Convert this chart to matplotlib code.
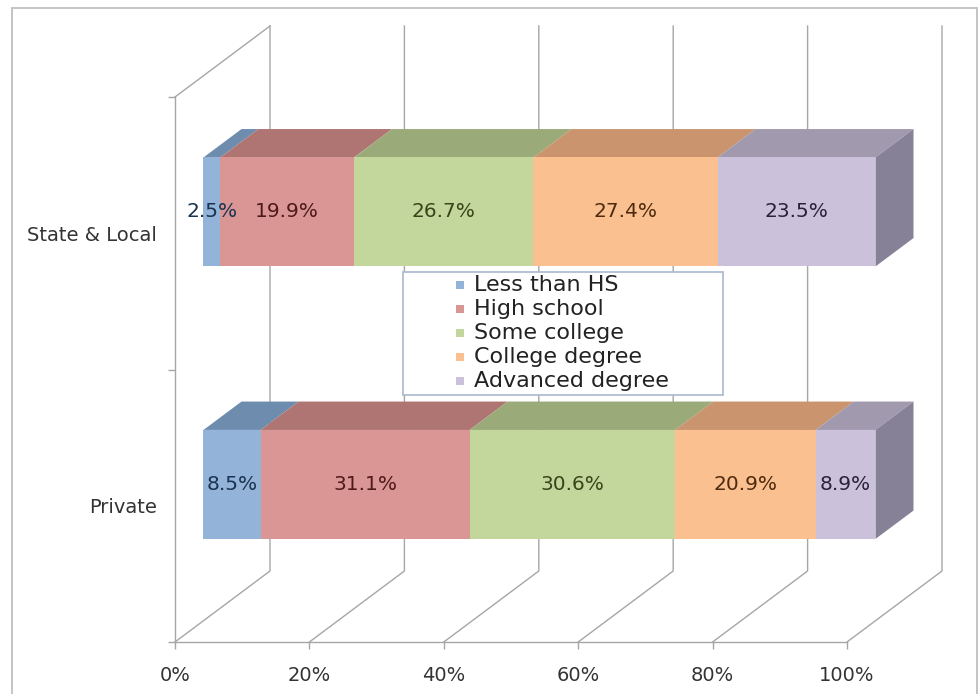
import matplotlib
matplotlib.use("Agg")
import matplotlib.pyplot as plt
from matplotlib.patches import Polygon, Rectangle

# Educational attainment by sector (share of workers, %)
categories = ["Private", "State & Local"]
series = ["Less than HS", "High school", "Some college", "College degree", "Advanced degree"]
private = [8.5, 31.1, 30.6, 20.9, 8.9]
state_local = [2.5, 19.9, 26.7, 27.4, 23.5]
x_ticks = [0, 20, 40, 60, 80, 100]
x_tick_labels = ["0%", "20%", "40%", "60%", "80%", "100%"]

front_colors = ["#93B3D8", "#DA9694", "#C3D69B", "#FAC090", "#CCC1DA"]
top_colors = ["#6E8DAE", "#AE7573", "#9AAA78", "#C9946E", "#A199AD"]
side_color = "#878197"
label_colors = ["#1A3350", "#4E1918", "#37461A", "#4E2B0E", "#28223C"]
grid_color = "#A6A6A6"
text_color = "#333333"

W, H = 979, 694
fig = plt.figure(figsize=(W / 100, H / 100), dpi=100)
fig.patch.set_facecolor("white")


def fx(x):
    return x / W


def fy(y):
    return 1 - y / H


# outer chart frame (its lower edge runs past the bottom of the image)
fig.add_artist(Rectangle((fx(12), fy(700)), fx(977) - fx(12), fy(8) - fy(700),
                         transform=fig.transFigure, fill=False, ec="#BFBFBF", lw=1.3))

# front plane of the 3-D plot area
ax = fig.add_axes([fx(175), fy(642), fx(847) - fx(175), fy(97) - fy(642)])
ax.set_xlim(0, 100)
ax.set_ylim(-0.5, 1.5)
ax.patch.set_alpha(0)

p0 = ax.transData.transform((0, 0))
p1 = ax.transData.transform((1, 1))
sx, sy = p1 - p0
DEPTH_X = 95 / sx   # wall depth, data units along x
DEPTH_Y = 71 / sy   # wall depth, data units along y


def at(x, y, d):
    """Point (x, y) pushed d (0 front .. 1 back) into the depth of the plot."""
    return (x + d * DEPTH_X, y + d * DEPTH_Y)


grid_kw = dict(color=grid_color, lw=1.0, clip_on=False, zorder=1)
# floor diagonals and back-wall gridlines
for t in x_ticks:
    a, b, c = at(t, -0.5, 0), at(t, -0.5, 1), at(t, 1.5, 1)
    ax.plot([a[0], b[0], c[0]], [a[1], b[1], c[1]], **grid_kw)
# top edge of the side wall
a, b = at(0, 1.5, 0), at(0, 1.5, 1)
ax.plot([a[0], b[0]], [a[1], b[1]], **grid_kw)

for s in ["top", "right"]:
    ax.spines[s].set_visible(False)
for s in ["left", "bottom"]:
    ax.spines[s].set_color(grid_color)
    ax.spines[s].set_linewidth(1.0)

ax.set_xticks(x_ticks)
ax.set_xticklabels(x_tick_labels, fontsize=14, color=text_color)
ax.tick_params(axis="x", length=5, width=1, color=grid_color, pad=12)
ax.set_yticks([0, 1])
ax.set_yticklabels(categories, fontsize=14, color=text_color)
ax.tick_params(axis="y", length=0, pad=13)
ax.set_yticks([-0.5, 0.5, 1.5], minor=True)
ax.tick_params(axis="y", which="minor", length=5, width=1, color=grid_color)

# stacked 3-D bars
bar_h = 0.4
d0, d1 = 0.3, 0.7
for cat_idx, values in enumerate([private, state_local]):
    y0, y1 = cat_idx - bar_h / 2, cat_idx + bar_h / 2
    left = 0.0
    for i, v in enumerate(values):
        right = left + v
        ax.add_patch(Polygon([at(left, y1, d0), at(right, y1, d0), at(right, y1, d1), at(left, y1, d1)],
                             closed=True, fc=top_colors[i], ec="none", clip_on=False, zorder=3))
        ax.add_patch(Polygon([at(left, y0, d0), at(right, y0, d0), at(right, y1, d0), at(left, y1, d0)],
                             closed=True, fc=front_colors[i], ec="none", clip_on=False, zorder=3))
        tx, ty = at((left + right) / 2, cat_idx, d0)
        ax.text(tx, ty, f"{v:.1f}%", ha="center", va="center", fontsize=14.5,
                color=label_colors[i], zorder=6, clip_on=False)
        left = right
    ax.add_patch(Polygon([at(left, y0, d0), at(left, y0, d1), at(left, y1, d1), at(left, y1, d0)],
                         closed=True, fc=side_color, ec="none", clip_on=False, zorder=3))

# legend box
lx0, ly0, lx1, ly1 = 403, 272, 723, 395
fig.add_artist(Rectangle((fx(lx0), fy(ly1)), fx(lx1) - fx(lx0), fy(ly0) - fy(ly1),
                         transform=fig.transFigure, fc="white", ec="#A9B9CF", lw=1.2, zorder=7))
for i, name in enumerate(series):
    yc = 285 + 24 * i
    fig.add_artist(Rectangle((fx(456), fy(yc + 4)), fx(8), 8 / H, transform=fig.transFigure,
                             fc=front_colors[i], ec="none", zorder=8))
    fig.text(fx(474), fy(yc), name, fontsize=16, color="#222222", ha="left", va="center", zorder=8)

fig.savefig("out.png", dpi=100)
